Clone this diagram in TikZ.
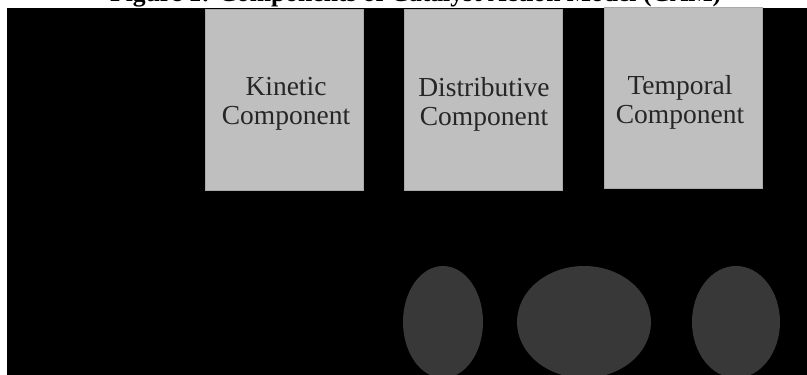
\documentclass[tikz,border=0pt]{standalone}
\usepackage{fontspec}
\setmainfont{Liberation Serif}
\usetikzlibrary{shapes.geometric}

\definecolor{panelbg}{HTML}{000000}
\definecolor{boxfill}{HTML}{BFBFBF}
\definecolor{boxline}{HTML}{A9A9A9}
\definecolor{boxtext}{HTML}{262626}
\definecolor{blobfill}{HTML}{383838}

\tikzset{
  compbox/.style={rectangle, fill=boxfill, draw=boxline, line width=0.8pt,
    minimum width=158pt, minimum height=181pt, inner sep=0pt},
  complabel/.style={inner sep=0pt, text=boxtext, align=center,
    font=\fontsize{27.5}{29}\selectfont},
  blob/.style={ellipse, fill=blobfill, draw=none, inner sep=0pt},
}

\begin{document}
\begin{tikzpicture}[x=1pt, y=-1pt]
  \useasboundingbox (0,0) rectangle (807,375);
  \fill[white] (0,0) rectangle (807,375);

  % title line, only its lower part falls inside the page
  \node[anchor=base west, inner sep=0pt,
        font=\bfseries\fontsize{25.6}{30}\selectfont] (title) at (110,1)
        {Figure 1: Components of Catalyst Action Model (CAM)};

  % dark panel
  \fill[panelbg] (7,8) rectangle (807,375);

  % the three components
  \node[compbox] (kin) at (284,100) {};
  \node[compbox] (dis) at (483.5,100) {};
  \node[compbox] (tem) at (683,98) {};
  \node[complabel] (kinT) at (286,104) {Kinetic\\Component};
  \node[complabel] (disT) at (484,104) {Distributive\\Component};
  \node[complabel] (temT) at (680,102) {Temporal\\Component};

  % rounded shapes below
  \node[blob, minimum width=80pt, minimum height=112pt] (e1) at (443,322) {};
  \node[blob, minimum width=134pt, minimum height=112pt] (e2) at (584,322) {};
  \node[blob, minimum width=88pt, minimum height=112pt] (e3) at (736,322) {};
\end{tikzpicture}
\end{document}
